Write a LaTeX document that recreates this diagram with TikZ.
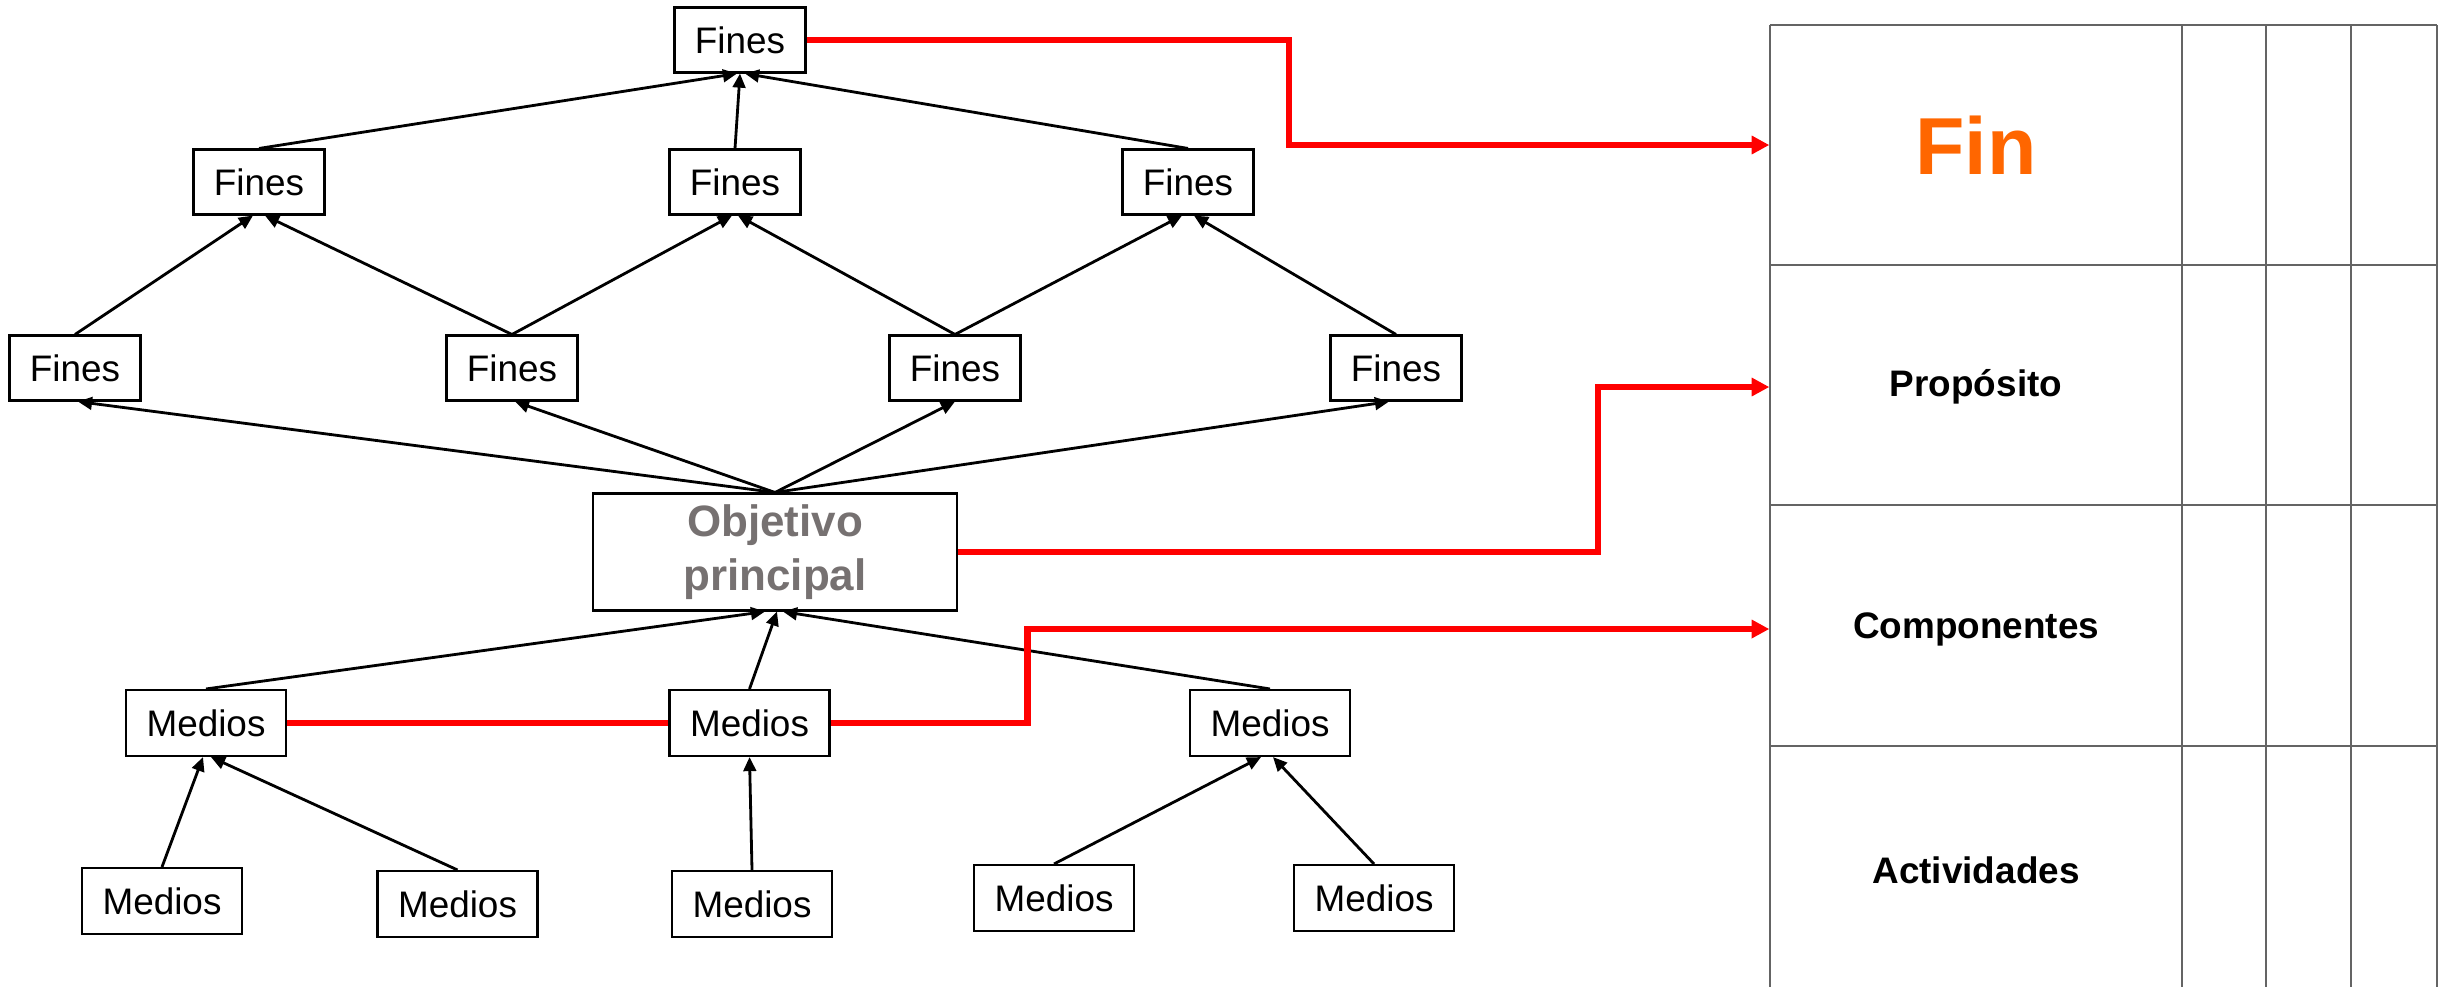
\documentclass[tikz,border=0pt]{standalone}
\usepackage{fontspec}
\setmainfont{Liberation Sans}
\usetikzlibrary{arrows.meta}
\definecolor{objgray}{RGB}{118,113,113}
\definecolor{finorange}{RGB}{255,102,0}
\definecolor{gridgray}{RGB}{100,100,100}
\begin{document}
\begin{tikzpicture}

		\tikzstyle{fines}=[rectangle,draw=black,semithick,
			minimum height=0.65cm,minimum width=1.31cm,inner sep=0pt,
			font=\fontsize{10.5}{12}\selectfont]
		\tikzstyle{medios}=[fines,minimum width=1.6cm,minimum height=0.66cm]
		\tikzstyle{objetivo}=[fines,minimum width=3.64cm,minimum height=1.17cm,
			align=center,text=objgray,font=\fontsize{12.5}{15.2}\selectfont\bfseries]
		\tikzstyle{fila}=[rectangle,minimum width=4.12cm,minimum height=2.4cm,
			inner sep=0pt,font=\fontsize{10.5}{12}\selectfont\bfseries]
		\tikzstyle{link}=[-{Triangle[length=4pt,width=3.6pt]},thick]
		\tikzstyle{redline}=[red,line width=1.8pt]
		\tikzstyle{redlink}=[redline,-{Triangle[length=5pt,width=5pt]}]

		\useasboundingbox (0,0) rectangle (24.48,-9.86);

		% arbol de fines
		\node[fines]	(top)	at (7.40,-0.40)	{Fines};
		\node[fines]	(f1a)	at (2.59,-1.82)	{Fines};
		\node[fines]	(f1b)	at (7.35,-1.82)	{Fines};
		\node[fines]	(f1c)	at (11.88,-1.82)	{Fines};
		\node[fines]	(f2a)	at (0.75,-3.68)	{Fines};
		\node[fines]	(f2b)	at (5.12,-3.68)	{Fines};
		\node[fines]	(f2c)	at (9.55,-3.68)	{Fines};
		\node[fines]	(f2d)	at (13.96,-3.68)	{Fines};

		\node[objetivo]	(obj)	at (7.75,-5.52)	{Objetivo\\principal};

		% arbol de medios
		\node[medios]	(m1)	at (2.06,-7.23)	{Medios};
		\node[medios]	(m2)	at (7.495,-7.23)	{Medios};
		\node[medios]	(m3)	at (12.70,-7.23)	{Medios};
		\node[medios]	(b1)	at (1.62,-9.01)	{Medios};
		\node[medios]	(b2)	at (4.575,-9.04)	{Medios};
		\node[medios]	(b3)	at (7.52,-9.04)	{Medios};
		\node[medios]	(b4)	at (10.54,-8.98)	{Medios};
		\node[medios]	(b5)	at (13.74,-8.98)	{Medios};

		\draw[link] (f1a.north) to ([xshift=-0.03cm]top.south);
		\draw[link] (f1b.north) to (top.south);
		\draw[link] (f1c.north) to ([xshift=0.05cm]top.south);

		\draw[link] (f2a.north) to ([xshift=-0.06cm]f1a.south);
		\draw[link] (f2b.north) to ([xshift=0.06cm]f1a.south);
		\draw[link] (f2b.north) to ([xshift=-0.03cm]f1b.south);
		\draw[link] (f2c.north) to ([xshift=0.03cm]f1b.south);
		\draw[link] (f2c.north) to ([xshift=-0.06cm]f1c.south);
		\draw[link] (f2d.north) to ([xshift=0.06cm]f1c.south);

		\draw[link] (obj.north) to ([xshift=0.03cm]f2a.south);
		\draw[link] (obj.north) to ([xshift=0.03cm]f2b.south);
		\draw[link] (obj.north) to (f2c.south);
		\draw[link] (obj.north) to ([xshift=-0.07cm]f2d.south);

		\draw[link] (m1.north) to ([xshift=-0.10cm]obj.south);
		\draw[link] (m2.north) to ([xshift=0.02cm]obj.south);
		\draw[link] (m3.north) to ([xshift=0.08cm]obj.south);

		\draw[link] (b1.north) to ([xshift=-0.03cm]m1.south);
		\draw[link] (b2.north) to ([xshift=0.05cm]m1.south);
		\draw[link] (b3.north) to (m2.south);
		\draw[link] (b4.north) to ([xshift=-0.09cm]m3.south);
		\draw[link] (b5.north) to ([xshift=0.03cm]m3.south);

		% matriz de marco logico
		\draw[gridgray,line width=0.7pt] (17.70,-0.25) -- (24.37,-0.25)
			(17.70,-2.65) -- (24.37,-2.65)
			(17.70,-5.05) -- (24.37,-5.05)
			(17.70,-7.46) -- (24.37,-7.46);
		\draw[gridgray,line width=0.7pt] (17.70,-0.25) -- (17.70,-9.90)
			(21.82,-0.25) -- (21.82,-9.90)
			(22.66,-0.25) -- (22.66,-9.90)
			(23.51,-0.25) -- (23.51,-9.90)
			(24.37,-0.25) -- (24.37,-9.90);

		\node[fila,text=finorange,font=\fontsize{23}{26}\selectfont\bfseries]	(fin)	at (19.76,-1.45)	{Fin};
		\node[fila]	(prop)	at (19.76,-3.87)	{Propósito};
		\node[fila]	(comp)	at (19.76,-6.29)	{Componentes};
		\node[fila]	(act)	at (19.76,-8.70)	{Actividades};

		\draw[redlink] (top.east) -- ++(4.825,0) |- (fin.west);
		\draw[redlink] (obj.east) -- ++(6.40,0) |- (prop.west);
		\draw[redline] (m1.east) -- (m2.west);
		\draw[redlink] (m2.east) -- ++(1.97,0) |- (comp.west);

	\end{tikzpicture}
\end{document}
